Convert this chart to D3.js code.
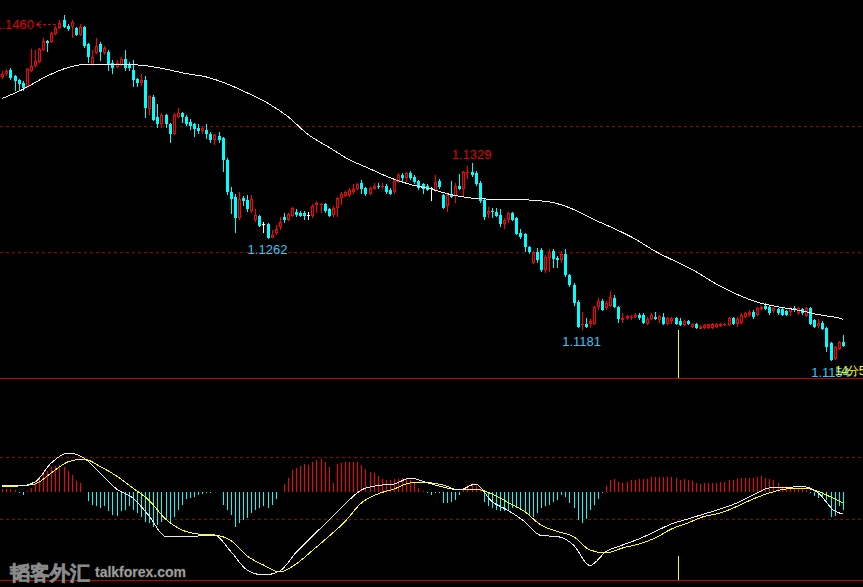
<!DOCTYPE html>
<html lang="en">
<head>
<meta charset="utf-8">
<title>EURUSD candles + MACD</title>
<script src="https://d3js.org/d3.v7.min.js"></script>
<style>
  html, body { margin: 0; padding: 0; background: #000; }
  svg { display: block; }
  .crisp { shape-rendering: crispEdges; }
  text { font-family: "Liberation Sans", Arial, sans-serif; }
</style>
</head>
<body>
<svg id="chart"></svg>
<script>
// ---- price bars ----
const open = [
  1.1405,1.1408,1.1411,1.1406,1.1402,1.1400,1.1396,1.1410,1.1415,1.1418,
  1.1429,1.1437,1.1436,1.1443,1.1448,1.1455,1.1450,1.1449,1.1448,1.1442,
  1.1449,1.1434,1.1416,1.1426,1.1434,1.1426,1.1427,1.1417,1.1414,1.1416,
  1.1421,1.1416,1.1411,1.1403,1.1400,1.1402,1.1377,1.1387,1.1370,1.1363,
  1.1371,1.1363,1.1355,1.1370,1.1373,1.1370,1.1365,1.1363,1.1360,1.1357,
  1.1358,1.1355,1.1349,1.1353,1.1351,1.1332,1.1303,1.1299,1.1280,1.1298,
  1.1296,1.1287,1.1279,1.1282,1.1275,1.1275,1.1263,1.1267,1.1272,1.1281,
  1.1279,1.1282,1.1286,1.1285,1.1285,1.1283,1.1282,1.1292,1.1292,1.1293,
  1.1288,1.1283,1.1289,1.1298,1.1300,1.1301,1.1303,1.1306,1.1311,1.1307,
  1.1302,1.1306,1.1309,1.1308,1.1309,1.1305,1.1303,1.1312,1.1318,1.1316,
  1.1320,1.1317,1.1313,1.1310,1.1309,1.1307,1.1304,1.1313,1.1301,1.1291,
  1.1302,1.1300,1.1309,1.1306,1.1320,1.1321,1.1320,1.1311,1.1296,1.1284,
  1.1287,1.1286,1.1283,1.1275,1.1279,1.1285,1.1280,1.1267,1.1266,1.1255,
  1.1241,1.1250,1.1252,1.1234,1.1245,1.1251,1.1245,1.1243,1.1249,1.1230,
  1.1221,1.1206,1.1186,1.1187,1.1187,1.1187,1.1202,1.1207,1.1201,1.1203,
  1.1210,1.1202,1.1190,1.1192,1.1192,1.1193,1.1195,1.1195,1.1187,1.1191,
  1.1193,1.1190,1.1193,1.1187,1.1189,1.1192,1.1189,1.1186,1.1189,1.1184,
  1.1187,1.1182,1.1183,1.1183,1.1183,1.1184,1.1185,1.1186,1.1186,1.1192,
  1.1187,1.1188,1.1193,1.1195,1.1197,1.1195,1.1200,1.1203,1.1202,1.1198,
  1.1200,1.1200,1.1198,1.1197,1.1201,1.1196,1.1200,1.1194,1.1201,1.1190,
  1.1185,1.1188,1.1183,1.1170,1.1156,1.1165,1.1171
];
const high = [
  1.1410,1.1412,1.1413,1.1407,1.1403,1.1401,1.1413,1.1430,1.1429,1.1431,
  1.1439,1.1438,1.1445,1.1450,1.1455,1.1460,1.1452,1.1455,1.1449,1.1452,
  1.1450,1.1435,1.1429,1.1439,1.1436,1.1432,1.1429,1.1420,1.1420,1.1423,
  1.1429,1.1418,1.1420,1.1404,1.1408,1.1406,1.1389,1.1389,1.1381,1.1373,
  1.1372,1.1364,1.1373,1.1378,1.1374,1.1371,1.1368,1.1364,1.1363,1.1362,
  1.1363,1.1356,1.1355,1.1356,1.1352,1.1333,1.1308,1.1302,1.1303,1.1300,
  1.1301,1.1301,1.1288,1.1283,1.1277,1.1276,1.1270,1.1274,1.1281,1.1285,
  1.1285,1.1290,1.1288,1.1287,1.1287,1.1286,1.1293,1.1295,1.1294,1.1294,
  1.1289,1.1291,1.1299,1.1303,1.1304,1.1307,1.1310,1.1311,1.1314,1.1308,
  1.1308,1.1311,1.1311,1.1311,1.1310,1.1307,1.1314,1.1320,1.1320,1.1321,
  1.1322,1.1318,1.1314,1.1311,1.1310,1.1308,1.1318,1.1315,1.1302,1.1302,
  1.1313,1.1311,1.1319,1.1322,1.1326,1.1329,1.1322,1.1313,1.1297,1.1290,
  1.1289,1.1289,1.1288,1.1280,1.1286,1.1286,1.1281,1.1271,1.1267,1.1256,
  1.1251,1.1254,1.1254,1.1248,1.1253,1.1253,1.1247,1.1251,1.1253,1.1231,
  1.1223,1.1208,1.1197,1.1192,1.1191,1.1203,1.1210,1.1209,1.1207,1.1216,
  1.1212,1.1203,1.1196,1.1195,1.1195,1.1196,1.1196,1.1196,1.1193,1.1196,
  1.1197,1.1195,1.1196,1.1193,1.1193,1.1193,1.1192,1.1190,1.1190,1.1188,
  1.1188,1.1186,1.1187,1.1187,1.1188,1.1188,1.1188,1.1188,1.1193,1.1193,
  1.1193,1.1196,1.1197,1.1199,1.1199,1.1202,1.1203,1.1205,1.1203,1.1202,
  1.1201,1.1201,1.1199,1.1202,1.1203,1.1202,1.1201,1.1202,1.1202,1.1191,
  1.1191,1.1189,1.1184,1.1171,1.1167,1.1172,1.1177
];
const low = [
  1.1403,1.1406,1.1402,1.1393,1.1393,1.1393,1.1395,1.1409,1.1414,1.1417,
  1.1428,1.1427,1.1435,1.1442,1.1447,1.1448,1.1446,1.1439,1.1441,1.1441,
  1.1431,1.1417,1.1415,1.1425,1.1419,1.1424,1.1410,1.1408,1.1413,1.1415,
  1.1410,1.1410,1.1396,1.1396,1.1397,1.1369,1.1371,1.1366,1.1360,1.1360,
  1.1360,1.1347,1.1354,1.1369,1.1364,1.1362,1.1358,1.1352,1.1355,1.1355,
  1.1350,1.1347,1.1345,1.1347,1.1321,1.1301,1.1284,1.1267,1.1279,1.1291,
  1.1286,1.1285,1.1277,1.1272,1.1267,1.1262,1.1263,1.1265,1.1270,1.1276,
  1.1278,1.1281,1.1281,1.1281,1.1279,1.1279,1.1280,1.1285,1.1285,1.1285,
  1.1281,1.1281,1.1281,1.1292,1.1299,1.1299,1.1302,1.1305,1.1302,1.1300,
  1.1301,1.1305,1.1306,1.1306,1.1302,1.1301,1.1302,1.1311,1.1312,1.1312,
  1.1314,1.1310,1.1305,1.1302,1.1304,1.1295,1.1303,1.1306,1.1288,1.1286,
  1.1298,1.1294,1.1305,1.1299,1.1315,1.1317,1.1309,1.1294,1.1279,1.1280,
  1.1280,1.1281,1.1272,1.1271,1.1276,1.1278,1.1265,1.1262,1.1250,1.1249,
  1.1240,1.1241,1.1233,1.1232,1.1233,1.1236,1.1236,1.1241,1.1228,1.1219,
  1.1203,1.1183,1.1181,1.1183,1.1183,1.1186,1.1199,1.1198,1.1199,1.1202,
  1.1201,1.1188,1.1188,1.1190,1.1190,1.1192,1.1190,1.1187,1.1186,1.1190,
  1.1190,1.1188,1.1186,1.1186,1.1187,1.1186,1.1185,1.1185,1.1186,1.1183,
  1.1182,1.1182,1.1182,1.1182,1.1182,1.1183,1.1184,1.1185,1.1185,1.1186,
  1.1184,1.1187,1.1192,1.1193,1.1191,1.1194,1.1199,1.1199,1.1195,1.1196,
  1.1195,1.1194,1.1194,1.1194,1.1197,1.1195,1.1195,1.1193,1.1186,1.1183,
  1.1183,1.1181,1.1162,1.1154,1.1155,1.1164,1.1166
];
const close = [
  1.1408,1.1410,1.1404,1.1401,1.1399,1.1395,1.1412,1.1415,1.1419,1.1430,
  1.1437,1.1435,1.1444,1.1448,1.1453,1.1449,1.1447,1.1454,1.1442,1.1449,
  1.1432,1.1423,1.1423,1.1432,1.1427,1.1431,1.1416,1.1413,1.1417,1.1421,
  1.1413,1.1413,1.1402,1.1400,1.1402,1.1378,1.1388,1.1367,1.1363,1.1371,
  1.1363,1.1355,1.1371,1.1373,1.1370,1.1363,1.1362,1.1359,1.1357,1.1360,
  1.1355,1.1349,1.1354,1.1349,1.1332,1.1303,1.1297,1.1280,1.1297,1.1295,
  1.1288,1.1297,1.1283,1.1273,1.1275,1.1263,1.1265,1.1271,1.1277,1.1279,
  1.1284,1.1289,1.1283,1.1282,1.1282,1.1283,1.1291,1.1294,1.1293,1.1287,
  1.1282,1.1289,1.1298,1.1302,1.1303,1.1305,1.1306,1.1310,1.1306,1.1302,
  1.1307,1.1309,1.1308,1.1309,1.1303,1.1302,1.1313,1.1318,1.1316,1.1320,
  1.1316,1.1312,1.1307,1.1306,1.1305,1.1307,1.1312,1.1308,1.1289,1.1301,
  1.1299,1.1309,1.1306,1.1321,1.1321,1.1318,1.1310,1.1295,1.1281,1.1287,
  1.1286,1.1282,1.1275,1.1279,1.1285,1.1279,1.1266,1.1264,1.1255,1.1250,
  1.1250,1.1243,1.1234,1.1246,1.1250,1.1244,1.1243,1.1249,1.1230,1.1221,
  1.1205,1.1184,1.1187,1.1184,1.1189,1.1202,1.1207,1.1199,1.1205,1.1211,
  1.1202,1.1191,1.1192,1.1194,1.1193,1.1195,1.1192,1.1188,1.1191,1.1195,
  1.1191,1.1194,1.1187,1.1192,1.1192,1.1187,1.1186,1.1189,1.1187,1.1187,
  1.1183,1.1184,1.1186,1.1187,1.1187,1.1187,1.1187,1.1187,1.1192,1.1187,
  1.1191,1.1195,1.1196,1.1197,1.1193,1.1201,1.1202,1.1200,1.1196,1.1201,
  1.1196,1.1195,1.1195,1.1201,1.1199,1.1201,1.1196,1.1201,1.1187,1.1184,
  1.1188,1.1182,1.1166,1.1155,1.1166,1.1171,1.1167
];

// moving average (white line), sampled every 5 bars
const maIdx = [0,5,10,15,20,25,30,35,40,45,50,55,60,65,70,75,80,85,90,95,100,
  105,110,115,120,125,130,135,140,145,150,155,160,165,170,175,180,185,190,195,200,205,206];
const maVal = [1.1386,1.1394,1.1404,1.1412,1.1416,1.1416,1.1416,1.1415,1.1412,1.1408,
  1.1405,1.1399,1.1391,1.1382,1.1370,1.1354,1.1343,1.1332,1.1324,1.1316,1.1310,
  1.1306,1.1301,1.1298,1.1297,1.1297,1.1296,1.1294,1.1288,1.1279,1.1271,1.1262,
  1.1251,1.1242,1.1233,1.1222,1.1213,1.1206,1.1202,1.1199,1.1195,1.1192,1.1191];

// MACD window (pips)
const macdHist = [
  0.5,0.5,0.5,0.3,-0.3,-0.7,0.2,0.7,1.8,2.5,
  3.7,4.2,4.9,5.1,5.3,4.9,4.1,3.3,2.1,1.8,
  0,-1.8,-2.7,-3.0,-3.3,-3.0,-3.9,-4.7,-4.9,-4.0,
  -3.7,-3.0,-3.7,-4.2,-5.0,-6.0,-6.3,-7.0,-6.7,-6.0,
  -5.7,-6.0,-5.1,-3.7,-2.7,-1.5,-1.3,-1.0,-0.7,-0.5,
  -0.3,-0.2,0,0,-2.7,-3.7,-4.7,-7.1,-6.3,-5.7,
  -5.3,-4.3,-3.7,-3.3,-3.0,-3.3,-2.7,-1.5,0,1.5,
  2.7,4.3,4.8,5.1,5.5,5.3,6.0,6.3,6.5,6.0,
  5.0,1.7,5.5,5.8,5.9,5.9,5.9,5.9,5.3,4.5,
  4.0,3.7,3.1,2.5,2.3,2.2,2.5,2.5,2.7,2.5,
  2.3,1.7,0.7,0.2,-0.3,-0.7,-0.3,-0.3,-2.3,-2.2,
  -2.0,-1.7,-0.7,0.5,1.3,1.7,1.0,0.5,-2.0,-3.0,
  -3.3,-3.7,-4.0,-4.0,-3.7,-3.3,-3.3,-3.7,-4.2,-4.7,
  -5.1,-4.2,-3.3,-2.9,-2.7,-2.0,-1.7,-0.7,-1.0,-2.2,
  -3.3,-5.6,-6.2,-5.5,-3.7,-2.7,-1.5,-0.3,1.0,2.3,
  2.5,2.0,1.8,2.0,2.2,2.3,2.5,2.5,2.6,2.9,
  3.0,2.9,2.9,2.9,2.9,2.7,2.3,2.5,2.3,2.1,
  1.7,1.5,1.7,1.8,1.8,1.8,2.0,1.9,2.3,2.3,
  2.6,2.7,2.8,2.8,2.8,3.0,3.2,2.7,2.5,2.2,
  1.8,1.1,1.0,1.0,0.7,0.7,0.5,0.3,-0.3,-0.9,
  -1.3,-1.3,-1.7,-5.0,-4.9,-3.0,-3.7
];
const lineIdx = [0,4,8,12,16,20,24,28,32,36,40,44,48,52,56,60,64,68,72,76,80,84,88,92,96,100,
  104,108,112,116,120,124,128,132,136,140,144,148,152,156,160,164,168,172,176,180,184,188,192,196,200,204,206];
const macdMain = [1.3,1.1,1.9,5.7,7.7,6.7,3.7,0.5,-1.3,-4.9,-9.0,-9.1,-8.9,-8.7,-12.0,-15.7,-16.7,-15.9,
  -12.2,-8.9,-5.8,-2.5,0.3,1.2,1.5,2.7,1.8,0.9,0.3,1.5,-2.0,-3.8,-6.0,-8.8,-9.0,-10.7,-14.8,-12.0,
  -10.7,-9.5,-8.0,-6.5,-5.5,-4.5,-3.5,-2.3,-0.7,0.7,0.8,1.0,-0.3,-3.9,-4.5];
const macdSignal = [1.0,1.1,1.5,3.7,5.9,6.5,5.0,3.1,0.7,-1.8,-5.5,-7.7,-8.5,-8.7,-9.8,-12.9,-14.7,-16.1,
  -14.5,-11.8,-9.0,-6.0,-2.3,-0.5,0.5,1.7,1.8,1.3,0.3,0.5,-0.5,-2.2,-4.0,-6.7,-8.0,-9.0,-11.7,-12.3,
  -11.3,-10.5,-9.3,-7.5,-6.3,-5.0,-4.3,-3.0,-1.5,-0.3,0.5,0.7,0.0,-1.5,-2.3];
const macdGrid = [6.9, -5.5];

// swing labels
const labelIdx = [15, 65, 115, 142, 203];
const labelKind = ["arrow", "low", "high", "low", "low"];
const markerIndex = 165.5;   // yellow vertical marker

const W = 863, H = 587;
const RED = "#ff0000", CYAN = "#00ffff", WHITE = "#ffffff";

const svg = d3.select("#chart").attr("width", W).attr("height", H);
svg.append("rect").attr("width", W).attr("height", H).attr("fill", "#000");

const x = d3.scaleLinear().domain([0, close.length - 1]).range([2.3, 842.8]);
const y = d3.scaleLinear().domain([1.1139, 1.1473]).range([378, 0]);
const yM = d3.scaleLinear().domain([-17.7, 21.9]).range([580, 382]);

// grid
const grid = svg.append("g").attr("class", "crisp");
[1, 2].forEach(k => {
    grid.append("line").attr("x1", 0).attr("x2", W)
        .attr("y1", 378 * k / 3 + 0.5).attr("y2", 378 * k / 3 + 0.5)
        .attr("stroke", "#9b0000").attr("stroke-dasharray", "3,3");
});
macdGrid.forEach(v => {
    const yy = Math.round(yM(v)) + 0.5;
    grid.append("line").attr("x1", 0).attr("x2", W).attr("y1", yy).attr("y2", yy)
        .attr("stroke", "#9b0000").attr("stroke-dasharray", "3,3");
});
[378, 580].forEach(yy => {
    grid.append("line").attr("x1", 0).attr("x2", W).attr("y1", yy + 0.5).attr("y2", yy + 0.5)
        .attr("stroke", "#c00000");
});

// yellow marker
const mx = Math.round(x(markerIndex)) + 0.5;
grid.append("line").attr("x1", mx).attr("x2", mx).attr("y1", 330).attr("y2", 378)
    .attr("stroke", "#ffff00");
grid.append("line").attr("x1", mx).attr("x2", mx).attr("y1", 556).attr("y2", 580)
    .attr("stroke", "#ffff00");

// candles
const bars = d3.range(close.length).map(i => ({ i, o: open[i], h: high[i], l: low[i], c: close[i] }));
const cg = svg.append("g").attr("class", "crisp");
bars.forEach(d => {
    const cx = Math.round(x(d.i));
    const col = d.c > d.o ? RED : d.c < d.o ? CYAN : WHITE;
    const yh = Math.round(y(d.h)), yl = Math.round(y(d.l));
    cg.append("rect").attr("x", cx).attr("y", yh).attr("width", 1)
        .attr("height", Math.max(1, yl - yh)).attr("fill", col);
    const yTop = Math.round(y(Math.max(d.o, d.c)));
    const yBot = Math.round(y(Math.min(d.o, d.c)));
    const bh = yBot - yTop;
    if (d.c === d.o) {
        cg.append("rect").attr("x", cx - 1).attr("y", yTop).attr("width", 3).attr("height", 1).attr("fill", col);
    } else if (d.c < d.o || bh < 3) {
        cg.append("rect").attr("x", cx - 1).attr("y", yTop).attr("width", 3)
            .attr("height", Math.max(1, bh)).attr("fill", col);
    } else {
        cg.append("rect").attr("x", cx - 0.5).attr("y", yTop + 0.5).attr("width", 2)
            .attr("height", bh - 1).attr("fill", "#000").attr("stroke", col);
    }
});

// moving average
const maLine = d3.line().x(d => x(d[0])).y(d => y(d[1])).curve(d3.curveMonotoneX);
svg.append("path").attr("class", "crisp")
    .attr("d", maLine(maIdx.map((k, j) => [k, maVal[j]])))
    .attr("fill", "none").attr("stroke", "#f4f4f4").attr("stroke-width", 1);

// swing labels
const lg = svg.append("g").attr("font-size", 13);
labelIdx.forEach((k, j) => {
    const kind = labelKind[j];
    const cx = x(k);
    if (kind === "arrow") {
        const yy = y(high[k]);
        const tx = cx - 29.5;
        lg.append("text").attr("x", tx).attr("y", yy + 14.6).attr("text-anchor", "end")
            .attr("fill", "#e00000").text(high[k].toFixed(4));
        const ay = Math.round(yy + 8.8) + 0.5;
        lg.append("path").attr("class", "crisp")
            .attr("d", `M${tx + 7},${ay - 3}L${tx + 3},${ay}L${tx + 7},${ay + 3}`)
            .attr("fill", "none").attr("stroke", "#e00000");
        lg.append("line").attr("class", "crisp")
            .attr("x1", tx + 4).attr("x2", cx - 2).attr("y1", ay).attr("y2", ay)
            .attr("stroke", "#e00000").attr("stroke-dasharray", "3,2");
    } else if (kind === "high") {
        lg.append("text").attr("x", cx).attr("y", y(high[k]) - 4).attr("text-anchor", "middle")
            .attr("fill", "#e00000").text(high[k].toFixed(4));
    } else {
        lg.append("text").attr("x", cx).attr("y", y(low[k]) + 15.5).attr("text-anchor", "middle")
            .attr("fill", "#3fc3f2").text(low[k].toFixed(4));
    }
});

// countdown text
svg.append("text").attr("x", 835).attr("y", 374.5).attr("font-size", 12)
    .attr("letter-spacing", -0.5)
    .attr("fill", "#ffff00").text("14分59秒");

// MACD histogram
const hg = svg.append("g").attr("class", "crisp");
const zeroY = Math.round(yM(0));
macdHist.forEach((v, i) => {
    if (v === 0) return;
    const cx = Math.round(x(i));
    const yy = Math.round(yM(v));
    hg.append("rect").attr("x", cx).attr("width", 1)
        .attr("y", Math.min(yy, zeroY)).attr("height", Math.max(1, Math.abs(yy - zeroY)))
        .attr("fill", v > 0 ? RED : CYAN);
});

// MACD lines
const mLine = d3.line().x(d => x(d[0])).y(d => yM(d[1])).curve(d3.curveMonotoneX);
svg.append("path").attr("class", "crisp")
    .attr("d", mLine(lineIdx.map((k, j) => [k, macdSignal[j]])))
    .attr("fill", "none").attr("stroke", "#ffff00");
svg.append("path").attr("class", "crisp")
    .attr("d", mLine(lineIdx.map((k, j) => [k, macdMain[j]])))
    .attr("fill", "none").attr("stroke", "#ececec");

// watermark
svg.append("text").attr("x", 10).attr("y", 580)
    .attr("font-family", "'Noto Sans CJK SC', sans-serif").attr("font-weight", 700)
    .attr("font-size", 20).attr("fill", "#3c3c3c").attr("stroke", "#8a8a8a").attr("stroke-width", 0.7)
    .text("韬客外汇");
svg.append("text").attr("x", 95).attr("y", 577)
    .attr("font-weight", 700).attr("font-size", 14)
    .attr("fill", "#a0a0a0").attr("stroke", "#111").attr("stroke-width", 2)
    .attr("paint-order", "stroke")
    .text("talkforex.com");
</script>
</body>
</html>
